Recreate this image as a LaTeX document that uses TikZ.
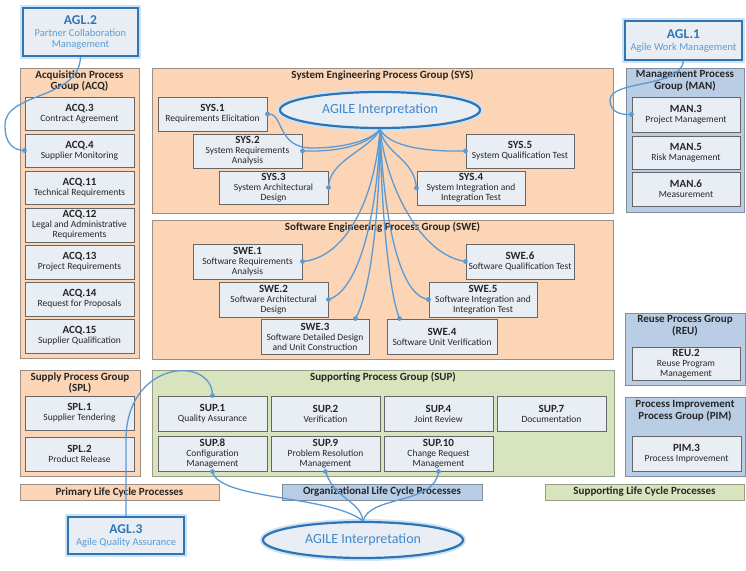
\documentclass[tikz,border=0pt]{standalone}
\usepackage{fontspec}
\setmainfont{Carlito}
\usetikzlibrary{shapes.geometric}
\definecolor{orgfill}{HTML}{FBD5B5}
\definecolor{orgdraw}{HTML}{9A8F86}
\definecolor{bxfill}{HTML}{E9EEF5}
\definecolor{bxdraw}{HTML}{666666}
\definecolor{blufill}{HTML}{B9CDE5}
\definecolor{bludraw}{HTML}{7F8C9C}
\definecolor{grnfill}{HTML}{D7E4BD}
\definecolor{grndraw}{HTML}{969C86}
\definecolor{aglblue}{HTML}{2E75B6}
\definecolor{agllight}{HTML}{5B9BD5}
\definecolor{glowc}{HTML}{CFE2F3}
\definecolor{conncol}{HTML}{5B9BD5}
\definecolor{elltxt}{HTML}{3F86CF}
\definecolor{txt}{HTML}{262626}
\newcommand\Bx[7]{\node[#1,minimum width={#5-#3},minimum height={#6-#4}] (#2) at ({(#3+#5)/2},{(#4+#6)/2}) {#7};}
\newcommand\Id[2]{{\fontsize{11}{10}\selectfont\bfseries #1}\\#2}
\newcommand\Ag[2]{{\fontsize{13.5}{13}\selectfont\bfseries\color{aglblue}#1}\\[1pt]#2}
\begin{document}
\begin{tikzpicture}[x=1pt,y=-1pt,
  pbox/.style={draw=bxdraw, fill=bxfill, line width=1pt, align=center, inner sep=1pt, text=txt, font=\fontsize{9.5}{10}\selectfont},
  grp/.style={line width=1pt, inner sep=0pt},
  orgrp/.style={grp, draw=orgdraw, fill=orgfill},
  blgrp/.style={grp, draw=bludraw, fill=blufill},
  gngrp/.style={grp, draw=grndraw, fill=grnfill},
  gtitle/.style={anchor=north, align=center, inner sep=1pt, text=txt, font=\fontsize{11}{11.5}\selectfont\bfseries},
  aglbox/.style={draw=aglblue, fill=bxfill, line width=2pt, align=center, inner sep=1pt, preaction={draw=glowc, line width=6pt}, font=\fontsize{10.5}{11}\selectfont, text=agllight},
  agile/.style={ellipse, draw=aglblue, fill=bxfill, line width=2.2pt, preaction={draw=glowc, line width=6pt}, text=elltxt, inner sep=0pt, font=\fontsize{14}{16}\selectfont},
  legbar/.style={line width=1pt, inner sep=0pt, text=txt, font=\fontsize{11}{12}\selectfont\bfseries},
  conn/.style={draw=conncol, line width=1.3pt}
]
\useasboundingbox (0,0) rectangle (746,570);
\fill[white] (0,0) rectangle (746,570);

% ---------- groups ----------
\Bx{orgrp}{acq}{20}{68}{139}{358}{}
\Bx{orgrp}{sys}{152}{68}{613}{213}{}
\Bx{blgrp}{man}{626}{68}{744}{212}{}
\Bx{orgrp}{swe}{152}{220}{613}{359}{}
\Bx{blgrp}{reu}{625}{313}{745}{385}{}
\Bx{blgrp}{pim}{625}{397}{745}{476}{}
\Bx{orgrp}{spl}{20}{370}{140}{476}{}
\Bx{gngrp}{sup}{152}{370}{614}{476}{}

\node[gtitle] (acqT) at ([yshift=-2pt]acq.north) {Acquisition Process\\Group (ACQ)};
\node[gtitle] (sysT) at ([yshift=-2pt]sys.north) {System Engineering Process Group (SYS)};
\node[gtitle] (manT) at ([yshift=-2pt]man.north) {Management Process\\Group (MAN)};
\node[gtitle] (sweT) at ([yshift=-2pt]swe.north) {Software Engineering Process Group (SWE)};
\node[gtitle] (reuT) at ([yshift=-2pt]reu.north) {Reuse Process Group\\(REU)};
\node[gtitle] (pimT) at ([yshift=-3pt]pim.north) {Process Improvement\\Process Group (PIM)};
\node[gtitle] (splT) at ([yshift=-2pt]spl.north) {Supply Process Group\\(SPL)};
\node[gtitle] (supT) at ([yshift=-2pt]sup.north) {Supporting Process Group (SUP)};

% ---------- ACQ ----------
\Bx{pbox}{acq3}{25}{97}{134}{130}{\Id{ACQ.3}{Contract Agreement}}
\Bx{pbox}{acq4}{25}{134}{134}{167}{\Id{ACQ.4}{Supplier Monitoring}}
\Bx{pbox}{acq11}{25}{171}{134}{204}{\Id{ACQ.11}{Technical Requirements}}
\Bx{pbox}{acq12}{25}{208}{134}{242}{\Id{ACQ.12}{Legal and Administrative\\Requirements}}
\Bx{pbox}{acq13}{25}{245}{134}{279}{\Id{ACQ.13}{Project Requirements}}
\Bx{pbox}{acq14}{25}{282}{134}{316}{\Id{ACQ.14}{Request for Proposals}}
\Bx{pbox}{acq15}{25}{319}{134}{353}{\Id{ACQ.15}{Supplier Qualification}}

% ---------- SYS ----------
\Bx{pbox}{sys1}{158}{97}{267}{131}{\Id{SYS.1}{Requirements Elicitation}}
\Bx{pbox}{sys2}{193}{134}{302}{168}{\Id{SYS.2}{System Requirements\\Analysis}}
\Bx{pbox}{sys3}{219}{171}{328}{204}{\Id{SYS.3}{System Architectural\\Design}}
\Bx{pbox}{sys5}{466}{134}{574}{168}{\Id{SYS.5}{System Qualification Test}}
\Bx{pbox}{sys4}{417}{171}{525}{205}{\Id{SYS.4}{System Integration and\\Integration Test}}
\node[agile, minimum width=200, minimum height=36] (agile1) at (380,110) {AGILE Interpretation};

% ---------- MAN ----------
\Bx{pbox}{man3}{632}{97}{740}{132}{\Id{MAN.3}{Project Management}}
\Bx{pbox}{man5}{632}{136}{740}{169}{\Id{MAN.5}{Risk Management}}
\Bx{pbox}{man6}{632}{172}{740}{206}{\Id{MAN.6}{Measurement}}

% ---------- SWE ----------
\Bx{pbox}{swe1}{193}{244}{302}{279}{\Id{SWE.1}{Software Requirements\\Analysis}}
\Bx{pbox}{swe2}{219}{282}{328}{317}{\Id{SWE.2}{Software Architectural\\Design}}
\Bx{pbox}{swe3}{261}{319}{369}{354}{\Id{SWE.3}{Software Detailed Design\\and Unit Construction}}
\Bx{pbox}{swe4}{387}{319}{497}{354}{\Id{SWE.4}{Software Unit Verification}}
\Bx{pbox}{swe5}{429}{282}{537}{317}{\Id{SWE.5}{Software Integration and\\Integration Test}}
\Bx{pbox}{swe6}{466}{244}{574}{279}{\Id{SWE.6}{Software Qualification Test}}

% ---------- REU / PIM ----------
\Bx{pbox}{reu2}{632}{347}{740}{380}{\Id{REU.2}{Reuse Program\\Management}}
\Bx{pbox}{pim3}{632}{436}{741}{471}{\Id{PIM.3}{Process Improvement}}

% ---------- SPL / SUP ----------
\Bx{pbox}{spl1}{25}{396}{134}{430}{\Id{SPL.1}{Supplier Tendering}}
\Bx{pbox}{spl2}{25}{437}{134}{471}{\Id{SPL.2}{Product Release}}
\Bx{pbox}{sup1}{158}{396}{267}{431}{\Id{SUP.1}{Quality Assurance}}
\Bx{pbox}{sup2}{271}{396}{380}{431}{\Id{SUP.2}{Verification}}
\Bx{pbox}{sup4}{384}{396}{493}{431}{\Id{SUP.4}{Joint Review}}
\Bx{pbox}{sup7}{497}{396}{606}{431}{\Id{SUP.7}{Documentation}}
\Bx{pbox}{sup8}{158}{436}{267}{471}{\Id{SUP.8}{Configuration\\Management}}
\Bx{pbox}{sup9}{271}{436}{380}{471}{\Id{SUP.9}{Problem Resolution\\Management}}
\Bx{pbox}{sup10}{384}{436}{493}{471}{\Id{SUP.10}{Change Request\\Management}}

% ---------- legend ----------
\Bx{legbar,draw=orgdraw,fill=orgfill}{legP}{20}{484}{219}{500}{Primary Life Cycle Processes}
\Bx{legbar,draw=bludraw,fill=blufill}{legO}{282}{484}{482}{500}{Organizational Life Cycle Processes}
\Bx{legbar,draw=grndraw,fill=grnfill}{legS}{545}{484}{744}{500}{Supporting Life Cycle Processes}

% ---------- AGL boxes ----------
\Bx{aglbox}{agl2}{23}{8}{138}{56}{\Ag{AGL.2}{Partner Collaboration\\Management}}
\Bx{aglbox}{agl1}{625}{21}{742}{60}{\Ag{AGL.1}{Agile Work Management}}
\Bx{aglbox}{agl3}{68}{517}{184}{554}{\Ag{AGL.3}{Agile Quality Assurance}}
\node[agile, minimum width=200, minimum height=36] (agile2) at (363,540) {AGILE Interpretation};

% ---------- connectors ----------
\coordinate (hub) at (agile1.south);
\coordinate (hub2) at (agile2.north);
\coordinate (swe3d) at ([xshift=-14pt]swe3.north east);
\coordinate (swe4d) at ([xshift=13pt]swe4.north west);

\draw[conn] (sys1.east) .. controls (284,112) and (276,148) .. (312,148) .. controls (345,148) and (372,140) .. (hub);
\draw[conn] (sys2.east) .. controls (340,152) and (368,145) .. (hub);
\draw[conn] (sys3.east) .. controls (329,160) and (370,150) .. (hub);
\draw[conn] (sys4.west) .. controls (414,158) and (385,155) .. (hub);
\draw[conn] (sys5.west) .. controls (420,152) and (388,145) .. (hub);
\draw[conn] (swe1.east) .. controls (345,258) and (375,200) .. (hub);
\draw[conn] (swe2.east) .. controls (360,290) and (378,210) .. (hub);
\draw[conn] (swe3d) .. controls (372,290) and (380,200) .. (hub);
\draw[conn] (swe4d) .. controls (388,290) and (381,200) .. (hub);
\draw[conn] (swe5.west) .. controls (395,295) and (383,200) .. (hub);
\draw[conn] (swe6.west) .. controls (420,255) and (386,185) .. (hub);

\draw[conn] (agl2.south) .. controls (79,100) and (5,92) .. (5,125) .. controls (5,145) and (14,150) .. (acq4.west);
\draw[conn] (agl1.south) .. controls (681,88) and (610,80) .. (610,100) .. controls (610,112) and (620,115) .. (man3.west);
\draw[conn] (agl3.north) -- (126,440) .. controls (126,360) and (212,355) .. (sup1.north);

\draw[conn] (sup8.south) .. controls (218,500) and (330,495) .. (hub2);
\draw[conn] (sup9.south) .. controls (335,500) and (360,500) .. (hub2);
\draw[conn] (sup10.south) .. controls (435,505) and (370,495) .. (hub2);

\foreach \p in {sys1.east,sys2.east,sys3.east,sys4.west,sys5.west,swe1.east,swe2.east,swe3d,swe4d,swe5.west,swe6.west,acq4.west,man3.west,sup1.north,sup8.south,sup9.south,sup10.south}
  \fill[conncol] (\p) circle (2.4pt);
\end{tikzpicture}
\end{document}
